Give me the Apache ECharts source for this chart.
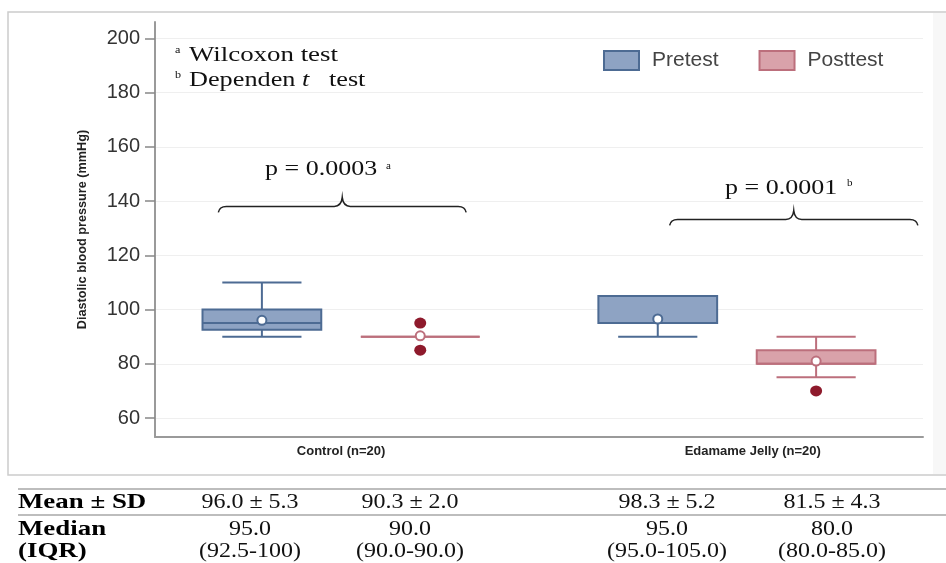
<!DOCTYPE html>
<html>
<head>
<meta charset="utf-8">
<script src="https://cdn.jsdelivr.net/npm/echarts@6/dist/echarts.min.js"></script>
<style>
  html, body { margin: 0; padding: 0; background: #fff; }
  #chart { width: 946px; height: 563px; }
</style>
</head>
<body>
<div id="chart"></div>
<script>
// ---------------- data ----------------
const groups = ['Control (n=20)', 'Edamame Jelly (n=20)'];
const seriesNames = ['Pretest', 'Posttest'];
// [min whisker, Q1, median, Q3, max whisker]
const pretestStats = [[90, 92.5, 95, 100, 110], [90, 95, 95, 105, 105]];
const posttestStats = [[90, 90, 90, 90, 90], [75, 80, 80, 85, 90]];
const pretestMeans = [96, 96.5];
const posttestMeans = [90.3, 81];
const pretestOutliers = [[], []];
const posttestOutliers = [[95, 85], [70]];
const yTicks = [60, 80, 100, 120, 140, 160, 180, 200];
const tableMeanSD = ['96.0 ± 5.3', '90.3 ± 2.0', '98.3 ± 5.2', '81.5 ± 4.3'];
const tableMedian = ['95.0', '90.0', '95.0', '80.0'];
const tableIQR = ['(92.5-100)', '(90.0-90.0)', '(95.0-105.0)', '(80.0-85.0)'];
const pValues = ['p = 0.0003', 'p = 0.0001'];
const pMarks = ['a', 'b'];

// ---------------- layout / style ----------------
const GROUP_POS = [1, 2];
const OFFSET = [-0.2, 0.2];
const BOX_W = 0.3;
const CAP_W = 0.2;
const LABEL_POS = [1, 2.04];
const BRACES = [[0.69, 1.316, 138], [1.83, 2.457, 133.2]];
const STROKE = ['#4d6b93', '#bc6f7c'];
const FILL = ['#8ea3c3', '#d9a2aa'];
const OUTLIER = '#8e1a2c';
const SANS = '"Liberation Sans", Arial, sans-serif';
const SERIF = '"Liberation Serif", "Times New Roman", serif';

const allStats = [pretestStats, posttestStats];
const allMeans = [pretestMeans, posttestMeans];
const allOutliers = [pretestOutliers, posttestOutliers];

function boxData(s) {
  return groups.map((g, gi) => [GROUP_POS[gi] + OFFSET[s]].concat(allStats[s][gi], [allMeans[s][gi]]));
}
function outlierData() {
  const out = [];
  for (let s = 0; s < 2; s++) {
    groups.forEach((g, gi) => {
      allOutliers[s][gi].forEach(v => out.push([GROUP_POS[gi] + OFFSET[s], v]));
    });
  }
  return out;
}

function makeRender(s) {
  const stroke = STROKE[s], fill = FILL[s];
  return function (params, api) {
    const x = api.value(0);
    const mn = api.value(1), q1 = api.value(2), md = api.value(3), q3 = api.value(4), mx = api.value(5), mean = api.value(6);
    const P = v => api.coord([x, v]);
    const hw = api.size([BOX_W, 0])[0] / 2;
    const cw = api.size([CAP_W, 0])[0] / 2;
    const cx = P(md)[0];
    const yMin = P(mn)[1], yQ1 = P(q1)[1], yMd = P(md)[1], yQ3 = P(q3)[1], yMax = P(mx)[1], yMean = P(mean)[1];
    const ls = { stroke: stroke, lineWidth: 2 };
    const ch = [];
    if (mx > q3) {
      ch.push({ type: 'line', shape: { x1: cx, y1: yQ3, x2: cx, y2: yMax }, style: ls });
      ch.push({ type: 'line', shape: { x1: cx - cw, y1: yMax, x2: cx + cw, y2: yMax }, style: ls });
    }
    if (mn < q1) {
      ch.push({ type: 'line', shape: { x1: cx, y1: yQ1, x2: cx, y2: yMin }, style: ls });
      ch.push({ type: 'line', shape: { x1: cx - cw, y1: yMin, x2: cx + cw, y2: yMin }, style: ls });
    }
    ch.push({ type: 'rect', shape: { x: cx - hw, y: yQ3, width: 2 * hw, height: yQ1 - yQ3 },
      style: { fill: fill, stroke: stroke, lineWidth: 2 } });
    ch.push({ type: 'line', shape: { x1: cx - hw, y1: yMd, x2: cx + hw, y2: yMd }, style: ls });
    ch.push({ type: 'circle', shape: { cx: cx, cy: yMean, r: 4.5 }, style: { fill: '#fff', stroke: stroke, lineWidth: 2 } });
    return { type: 'group', children: ch };
  };
}

function renderBrace(params, api) {
  const a = api.coord([api.value(0), api.value(2)]);
  const b = api.coord([api.value(1), api.value(2)]);
  const y = a[1], x0 = a[0], x1 = b[0], m = (x0 + x1) / 2;
  const h = 6, t = 9;
  const d = 'M' + x0 + ' ' + (y + h) + ' Q' + (x0 + 1) + ' ' + y + ' ' + (x0 + 8) + ' ' + y +
    ' L' + (m - 8) + ' ' + y + ' Q' + (m - 1) + ' ' + y + ' ' + m + ' ' + (y - t) +
    ' Q' + (m + 1) + ' ' + y + ' ' + (m + 8) + ' ' + y +
    ' L' + (x1 - 8) + ' ' + y + ' Q' + (x1 - 1) + ' ' + y + ' ' + x1 + ' ' + (y + h);
  return { type: 'path', shape: { pathData: d }, style: { fill: 'none', stroke: '#222', lineWidth: 1.5 } };
}

// ---------------- annotations (graphic) ----------------
const graphics = [];
graphics.push({ type: 'rect', z: -10, shape: { x: 933, y: 13, width: 14, height: 461 }, style: { fill: '#f7f7f7' } });
graphics.push({ type: 'rect', z: -9, shape: { x: 8, y: 12, width: 945, height: 463 }, style: { fill: 'none', stroke: '#cccccc', lineWidth: 1.5 } });

function txt(x, y, text, font, align, sx, fill) {
  return { type: 'text', x: x, y: y, scaleX: sx || 1.25,
    style: { text: text, font: font, fill: fill || '#111', align: align || 'left', verticalAlign: 'middle' } };
}
// footnotes
graphics.push(txt(175, 50, 'a', '11px ' + SERIF, 'left', 1.1));
graphics.push(txt(189, 55, 'Wilcoxon test', '21px ' + SERIF, 'left', 1.28));
graphics.push(txt(175, 75, 'b', '11px ' + SERIF, 'left', 1.1));
graphics.push({ type: 'text', x: 189, y: 80, scaleX: 1.25,
  style: { text: '{n|Dependen }{i|t}{n|   test}', fill: '#111', align: 'left', verticalAlign: 'middle',
    rich: { n: { fontSize: 21, fontFamily: SERIF, fill: '#111' }, i: { fontSize: 21, fontFamily: SERIF, fontStyle: 'italic', fill: '#111' } } } });
// p-values
graphics.push(txt(265, 170, pValues[0], '20px ' + SERIF, 'left', 1.3));
graphics.push(txt(386, 166, pMarks[0], '10px ' + SERIF, 'left', 1.1));
graphics.push(txt(725, 189, pValues[1], '20px ' + SERIF, 'left', 1.3));
graphics.push(txt(847, 183, pMarks[1], '10px ' + SERIF, 'left', 1.1));
// table
graphics.push({ type: 'line', shape: { x1: 18, y1: 489, x2: 946, y2: 489 }, style: { stroke: '#bdbdbd', lineWidth: 2 } });
graphics.push({ type: 'line', shape: { x1: 18, y1: 515, x2: 946, y2: 515 }, style: { stroke: '#bdbdbd', lineWidth: 2 } });
graphics.push(txt(18, 503, 'Mean ± SD', 'bold 21px ' + SERIF, 'left', 1.28, '#000'));
graphics.push(txt(18, 530, 'Median', 'bold 21px ' + SERIF, 'left', 1.28, '#000'));
graphics.push(txt(18, 552, '(IQR)', 'bold 21px ' + SERIF, 'left', 1.28, '#000'));
const COLS = [250, 410, 667, 832];
COLS.forEach((cx, i) => {
  graphics.push(txt(cx, 503, tableMeanSD[i], '20px ' + SERIF, 'center', 1.2));
  graphics.push(txt(cx, 530, tableMedian[i], '20px ' + SERIF, 'center', 1.2));
  graphics.push(txt(cx, 552, tableIQR[i], '20px ' + SERIF, 'center', 1.2));
});

// ---------------- chart ----------------
const chart = echarts.init(document.getElementById('chart'), null, { renderer: 'canvas' });
chart.setOption({
  animation: false,
  backgroundColor: '#ffffff',
  grid: { left: 155, right: 23, top: 22, bottom: 126, containLabel: false, outerBoundsMode: 'none' },
  legend: {
    left: 598, top: 45, orient: 'horizontal',
    itemWidth: 35, itemHeight: 19, itemGap: 40,
    selectedMode: false,
    textStyle: { fontSize: 21, fontFamily: SANS, color: '#444', padding: [0, 0, 0, 8] },
    data: seriesNames.map((n, s) => ({ name: n, icon: 'rect',
      itemStyle: { color: FILL[s], borderColor: STROKE[s], borderWidth: 2 } }))
  },
  xAxis: {
    type: 'value', min: 0.53, max: 2.47,
    axisLine: { show: true, onZero: false, lineStyle: { color: '#9a9a9a', width: 2 } },
    axisTick: { show: false },
    splitLine: { show: false },
    axisLabel: {
      customValues: LABEL_POS, margin: 8,
      fontSize: 13, fontWeight: 'bold', fontFamily: SANS, color: '#222',
      formatter: function (v) {
        let best = 0;
        LABEL_POS.forEach((p, i) => { if (Math.abs(p - v) < Math.abs(LABEL_POS[best] - v)) best = i; });
        return groups[best];
      }
    }
  },
  yAxis: {
    type: 'value', min: 53, max: 206,
    name: 'Diastolic blood pressure (mmHg)', nameLocation: 'middle', nameGap: 66, nameRotate: 90,
    nameTextStyle: { fontSize: 12.7, fontWeight: 'bold', fontFamily: SANS, color: '#222' },
    axisLine: { show: true, onZero: false, lineStyle: { color: '#9a9a9a', width: 2 } },
    axisTick: { show: true, length: 10, customValues: yTicks, lineStyle: { color: '#888', width: 1.5 } },
    axisLabel: { customValues: yTicks, margin: 15, fontSize: 20, fontFamily: SANS, color: '#333' },
    splitLine: { show: true, lineStyle: { color: '#efefef', width: 1 } }
  },
  series: [
    { name: seriesNames[0], type: 'custom', renderItem: makeRender(0), data: boxData(0),
      itemStyle: { color: FILL[0], borderColor: STROKE[0] }, encode: { x: 0, y: [1, 2, 3, 4, 5] }, z: 2 },
    { name: seriesNames[1], type: 'custom', renderItem: makeRender(1), data: boxData(1),
      itemStyle: { color: FILL[1], borderColor: STROKE[1] }, encode: { x: 0, y: [1, 2, 3, 4, 5] }, z: 2 },
    { name: 'Outliers', type: 'scatter', data: outlierData(), symbol: 'circle', symbolSize: [12, 11],
      itemStyle: { color: OUTLIER, opacity: 1 }, z: 3 },
    { name: 'Braces', type: 'custom', renderItem: renderBrace, data: BRACES,
      encode: { x: [0, 1], y: 2 }, silent: true, z: 4 }
  ],
  graphic: graphics
});
</script>
</body>
</html>
